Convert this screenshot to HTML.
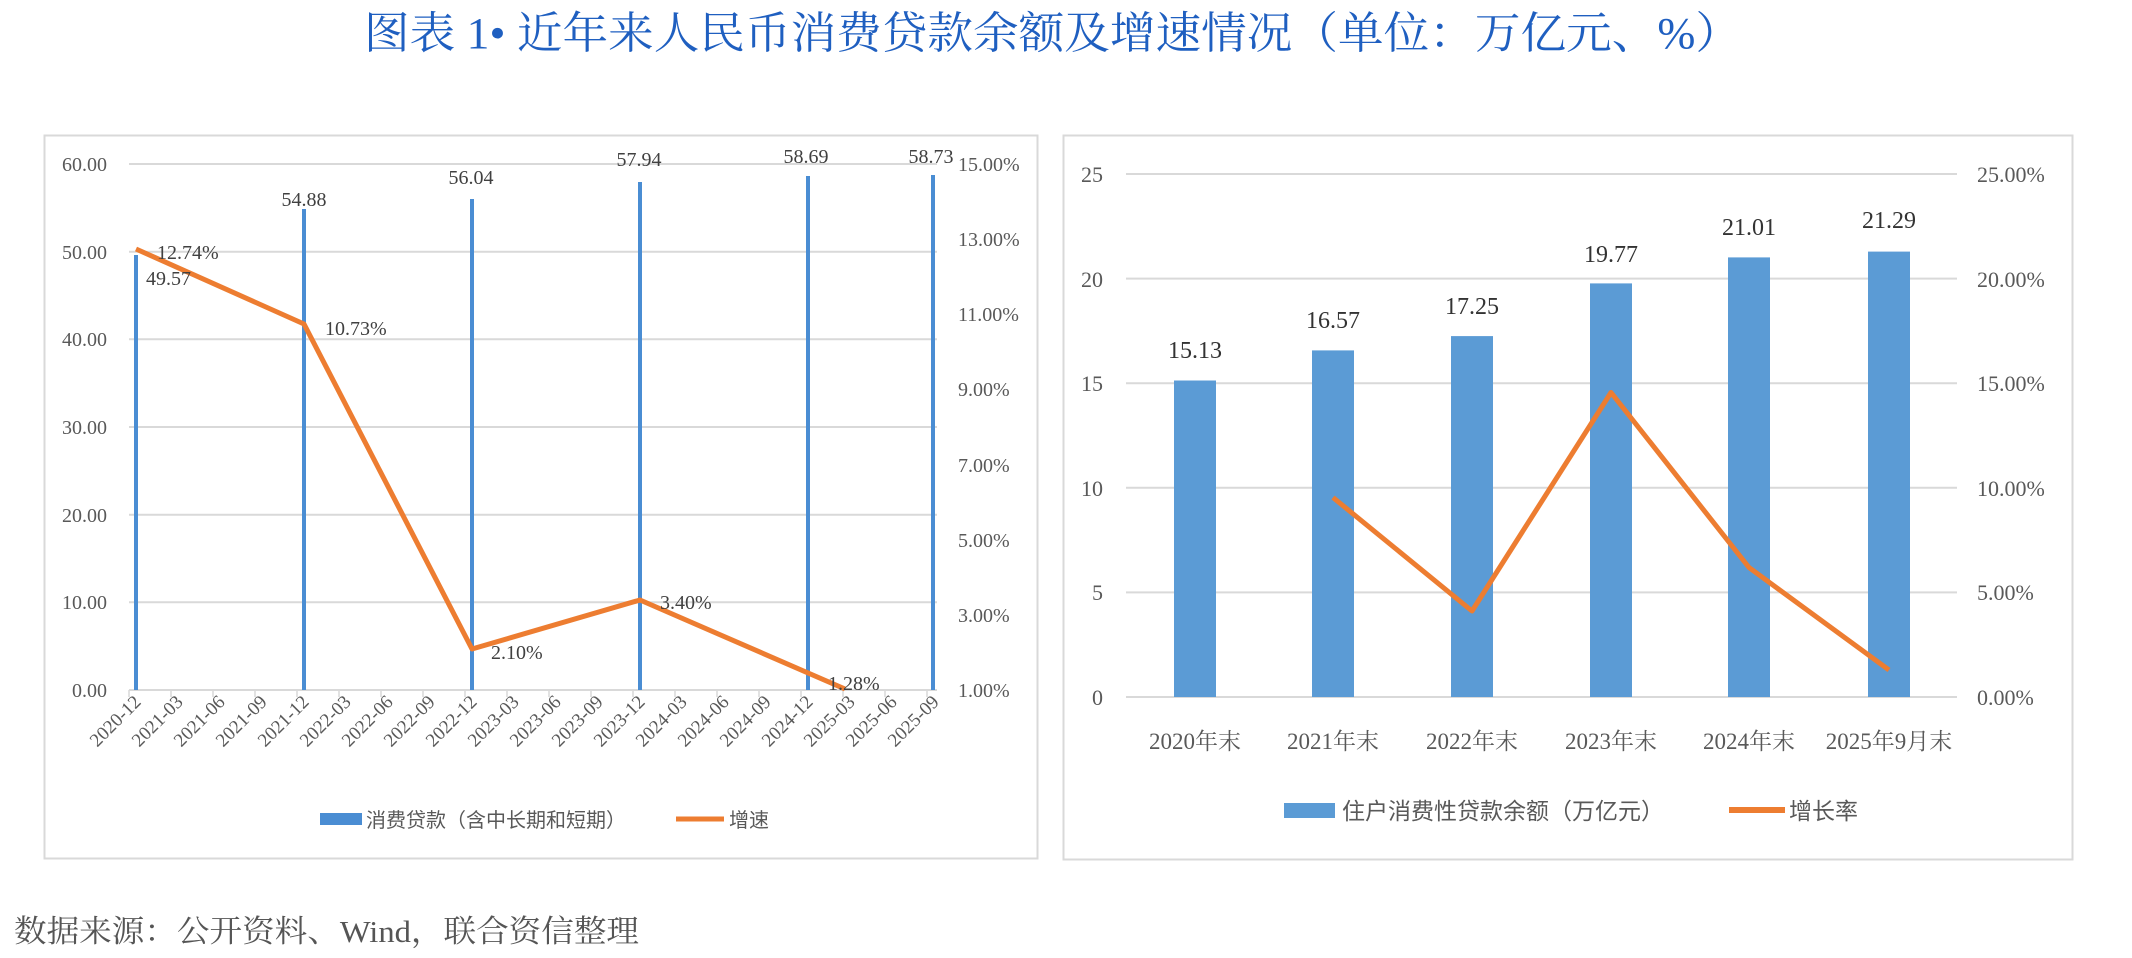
<!DOCTYPE html>
<html><head><meta charset="utf-8"><style>
html,body{margin:0;padding:0;background:#fff;}
svg{display:block;}
.s{font-family:"Liberation Serif","Noto Serif CJK SC",serif;}
.ss{font-family:"Liberation Sans","Noto Sans CJK SC",sans-serif;}
</style></head><body>
<svg width="2132" height="958" viewBox="0 0 2132 958" xmlns="http://www.w3.org/2000/svg">
<rect width="2132" height="958" fill="#fff"/>
<text class="s" x="364" y="48" font-size="44" fill="#1F5FC0" textLength="1377" lengthAdjust="spacingAndGlyphs">图表 1• 近年来人民币消费贷款余额及增速情况（单位：万亿元、%）</text>

<!-- LEFT PANEL -->
<rect x="44.5" y="135.5" width="993" height="723" fill="#fff" stroke="#d9d9d9" stroke-width="2"/>
<g stroke="#d9d9d9" stroke-width="2">
<line x1="129" y1="164" x2="937" y2="164"/><line x1="129" y1="251.7" x2="937" y2="251.7"/>
<line x1="129" y1="339.3" x2="937" y2="339.3"/><line x1="129" y1="427" x2="937" y2="427"/>
<line x1="129" y1="514.7" x2="937" y2="514.7"/><line x1="129" y1="602.3" x2="937" y2="602.3"/>
<line x1="129" y1="690" x2="937" y2="690"/>
</g>
<g stroke="#d9d9d9" stroke-width="1.5">
<line x1="129" y1="690" x2="129" y2="697"/><line x1="171" y1="690" x2="171" y2="697"/><line x1="213" y1="690" x2="213" y2="697"/><line x1="255" y1="690" x2="255" y2="697"/><line x1="297" y1="690" x2="297" y2="697"/><line x1="339" y1="690" x2="339" y2="697"/><line x1="381" y1="690" x2="381" y2="697"/><line x1="423" y1="690" x2="423" y2="697"/><line x1="465" y1="690" x2="465" y2="697"/><line x1="507" y1="690" x2="507" y2="697"/><line x1="549" y1="690" x2="549" y2="697"/><line x1="591" y1="690" x2="591" y2="697"/><line x1="633" y1="690" x2="633" y2="697"/><line x1="675" y1="690" x2="675" y2="697"/><line x1="717" y1="690" x2="717" y2="697"/><line x1="759" y1="690" x2="759" y2="697"/><line x1="801" y1="690" x2="801" y2="697"/><line x1="843" y1="690" x2="843" y2="697"/><line x1="885" y1="690" x2="885" y2="697"/><line x1="927" y1="690" x2="927" y2="697"/>
</g>
<g class="s" font-size="20" fill="#595959" text-anchor="end">
<text x="107" y="171">60.00</text><text x="107" y="259">50.00</text><text x="107" y="346">40.00</text>
<text x="107" y="434">30.00</text><text x="107" y="522">20.00</text><text x="107" y="609">10.00</text><text x="107" y="697">0.00</text>
</g>
<g class="s" font-size="20" fill="#595959">
<text x="958" y="171">15.00%</text><text x="958" y="246">13.00%</text><text x="958" y="321">11.00%</text>
<text x="958" y="396">9.00%</text><text x="958" y="472">7.00%</text><text x="958" y="547">5.00%</text>
<text x="958" y="622">3.00%</text><text x="958" y="697">1.00%</text>
</g>
<g stroke="#4A8DD3" stroke-width="4">
<line x1="136" y1="255" x2="136" y2="690"/><line x1="304" y1="209" x2="304" y2="690"/>
<line x1="472" y1="199" x2="472" y2="690"/><line x1="640" y1="182" x2="640" y2="690"/>
<line x1="808" y1="176" x2="808" y2="690"/><line x1="933" y1="175" x2="933" y2="690"/>
</g>
<polyline points="136,249 304,324 472,649 640,600 845,689" fill="none" stroke="#ED7D31" stroke-width="5" stroke-linejoin="round"/>
<g class="s" font-size="20" fill="#404040">
<text x="304" y="206" text-anchor="middle">54.88</text><text x="471" y="184" text-anchor="middle">56.04</text>
<text x="639" y="166" text-anchor="middle">57.94</text><text x="806" y="163" text-anchor="middle">58.69</text>
<text x="931" y="163" text-anchor="middle">58.73</text>
<text x="146" y="285">49.57</text><text x="157" y="259">12.74%</text>
<text x="325" y="335">10.73%</text><text x="491" y="659">2.10%</text>
<text x="660" y="609">3.40%</text><text x="828" y="690">1.28%</text>
</g>
<g class="s" font-size="19" fill="#595959" text-anchor="end">
<text transform="translate(142,703) rotate(-45)">2020-12</text><text transform="translate(184,703) rotate(-45)">2021-03</text><text transform="translate(226,703) rotate(-45)">2021-06</text><text transform="translate(268,703) rotate(-45)">2021-09</text><text transform="translate(310,703) rotate(-45)">2021-12</text><text transform="translate(352,703) rotate(-45)">2022-03</text><text transform="translate(394,703) rotate(-45)">2022-06</text><text transform="translate(436,703) rotate(-45)">2022-09</text><text transform="translate(478,703) rotate(-45)">2022-12</text><text transform="translate(520,703) rotate(-45)">2023-03</text><text transform="translate(562,703) rotate(-45)">2023-06</text><text transform="translate(604,703) rotate(-45)">2023-09</text><text transform="translate(646,703) rotate(-45)">2023-12</text><text transform="translate(688,703) rotate(-45)">2024-03</text><text transform="translate(730,703) rotate(-45)">2024-06</text><text transform="translate(772,703) rotate(-45)">2024-09</text><text transform="translate(814,703) rotate(-45)">2024-12</text><text transform="translate(856,703) rotate(-45)">2025-03</text><text transform="translate(898,703) rotate(-45)">2025-06</text><text transform="translate(940,703) rotate(-45)">2025-09</text>
</g>
<rect x="320" y="813" width="42" height="12" fill="#4A8DD3"/>
<text class="ss" x="366" y="827" font-size="20" fill="#595959">消费贷款（含中长期和短期）</text>
<line x1="676" y1="819" x2="724" y2="819" stroke="#ED7D31" stroke-width="5"/>
<text class="ss" x="729" y="827" font-size="20" fill="#595959">增速</text>

<!-- RIGHT PANEL -->
<rect x="1063.5" y="135.5" width="1009" height="724" fill="#fff" stroke="#d9d9d9" stroke-width="2"/>
<g stroke="#d9d9d9" stroke-width="2">
<line x1="1126" y1="174" x2="1957" y2="174"/><line x1="1126" y1="278.6" x2="1957" y2="278.6"/>
<line x1="1126" y1="383.2" x2="1957" y2="383.2"/><line x1="1126" y1="487.8" x2="1957" y2="487.8"/>
<line x1="1126" y1="592.4" x2="1957" y2="592.4"/><line x1="1126" y1="697" x2="1957" y2="697"/>
</g>
<g class="s" font-size="22" fill="#595959" text-anchor="end">
<text x="1103" y="182">25</text><text x="1103" y="287">20</text><text x="1103" y="391">15</text>
<text x="1103" y="496">10</text><text x="1103" y="600">5</text><text x="1103" y="705">0</text>
</g>
<g class="s" font-size="22" fill="#595959">
<text x="1977" y="182">25.00%</text><text x="1977" y="287">20.00%</text><text x="1977" y="391">15.00%</text>
<text x="1977" y="496">10.00%</text><text x="1977" y="600">5.00%</text><text x="1977" y="705">0.00%</text>
</g>
<g fill="#5B9BD5">
<rect x="1174" y="380.5" width="42" height="316.5"/><rect x="1312" y="350.4" width="42" height="346.6"/>
<rect x="1451" y="336.1" width="42" height="360.9"/><rect x="1590" y="283.4" width="42" height="413.6"/>
<rect x="1728" y="257.4" width="42" height="439.6"/><rect x="1868" y="251.6" width="42" height="445.4"/>
</g>
<polyline points="1333,497.5 1472,611 1611,392.5 1749,567.5 1889,670" fill="none" stroke="#ED7D31" stroke-width="5" stroke-linejoin="round"/>
<g class="s" font-size="24" fill="#333" text-anchor="middle">
<text x="1195" y="358">15.13</text><text x="1333" y="328">16.57</text><text x="1472" y="314">17.25</text>
<text x="1611" y="262">19.77</text><text x="1749" y="235">21.01</text><text x="1889" y="228">21.29</text>
</g>
<g class="s" font-size="23" fill="#595959" text-anchor="middle">
<text x="1195" y="749">2020年末</text><text x="1333" y="749">2021年末</text><text x="1472" y="749">2022年末</text>
<text x="1611" y="749">2023年末</text><text x="1749" y="749">2024年末</text><text x="1889" y="749">2025年9月末</text>
</g>
<rect x="1284" y="803" width="51" height="15" fill="#5B9BD5"/>
<text class="ss" x="1342" y="819" font-size="23" fill="#595959">住户消费性贷款余额（万亿元）</text>
<line x1="1729" y1="810" x2="1785" y2="810" stroke="#ED7D31" stroke-width="6"/>
<text class="ss" x="1789" y="819" font-size="23" fill="#595959">增长率</text>

<text class="s" x="14" y="942" font-size="31" fill="#555" textLength="625" lengthAdjust="spacingAndGlyphs">数据来源：公开资料、Wind，联合资信整理</text>
</svg>
</body></html>
